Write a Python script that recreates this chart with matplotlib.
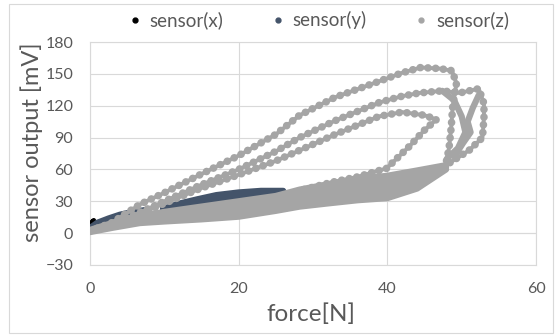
import matplotlib
matplotlib.use("Agg")
import matplotlib.pyplot as plt
from matplotlib.lines import Line2D
from matplotlib.patches import Rectangle

plt.rcParams['font.family'] = ['Lato', 'DejaVu Sans']

# --- data (force [N], sensor output [mV]) ---
# sensor(x): almost hidden near the origin
x_fx = [0.0, 0.2, 0.5, 0.3, 0.0]
x_mv = [6, 10, 12, 9, 4]

# sensor(y): thin loop, upper edge then lower edge
y_fx_a = [0.0, 1.0, 2.5, 4.0, 6.0, 7.5]
y_mv_a = [5, 10, 14, 17.5, 20.5, 22]
y_fx_b = [9.8, 12, 14.4, 17, 20, 23, 26, 26, 23, 20, 17, 14.4, 12, 9.8]
y_mv_b = [23, 28, 32, 36, 38.5, 40, 40, 38.5, 35.5, 31.5, 28.5, 27, 25, 23]

# sensor(z): loading branches (upper, dotted look)
z_up_a_fx = [0, 3, 6.7, 10, 14.8, 20, 25, 28.2, 33, 38.9, 42, 44.5, 47, 48.7, 49.3, 48.8, 48.6, 48.3, 47.9]
z_up_a_mv = [2, 10, 27, 38, 55, 73, 93, 111, 128, 143, 151, 156, 155, 153, 141, 120, 100, 80, 66]
z_up_b_fx = [0, 5, 10, 14.8, 20, 25, 28.2, 33, 38.9, 42, 44.3, 47.4, 49.7, 52.3, 53, 53, 52.8, 51, 47.9]
z_up_b_mv = [2, 14, 30, 45, 60, 77, 90, 106, 123, 129, 132, 134, 132, 136, 122, 109, 90, 78, 64]
z_up_c_fx = [0, 5, 10, 14.8, 20, 25, 28.2, 33, 38.9, 42, 45, 46.6, 45, 43, 39.9, 36, 32.6, 28.2]
z_up_c_mv = [2, 13, 28, 42, 55, 68, 78, 93, 110, 114, 111, 107, 97, 82, 61, 53, 48, 40]
# inner returns near the turning point
z_in_fx = [47.4, 49, 50, 50.5, 49.5, 48]
z_in_mv = [134, 125, 110, 95, 80, 70]
z_in2_fx = [52.3, 51.5, 50.8, 51.2, 50.2, 49]
z_in2_mv = [130, 118, 105, 95, 85, 72]

# sensor(z): unloading branches (lower, dense band)
z_lo_a_fx = [47.9, 44, 40, 36, 32, 28.2, 25, 20, 15, 10, 5, 0]
z_lo_a_mv = [64, 59, 54, 51, 46, 41, 35, 30, 25, 20, 14, 3]
z_lo_b_fx = [47.9, 44, 40, 36, 32, 28.2, 25, 20, 15, 10, 5, 0]
z_lo_b_mv = [62, 52, 44, 40, 36, 32, 28, 23, 20, 16, 11, 2]
z_lo_c_fx = [47.9, 44, 40, 36, 32, 28.2, 25, 20, 15, 10, 6.7, 3, 0]
z_lo_c_mv = [60, 42, 33, 31, 28, 25, 21, 15.5, 13, 11, 9.5, 5, 1]

x_ticks = [0, 20, 40, 60]
y_ticks = [-30, 0, 30, 60, 90, 120, 150, 180]

c_x = '#000000'
c_y = '#44546A'
c_z = '#A5A5A5'
txt = '#595959'
grid = '#D9D9D9'

fig = plt.figure(figsize=(5.55, 3.35), dpi=100)
fig.patches.append(Rectangle((9 / 555, 2 / 335), 544 / 555, 329 / 335, transform=fig.transFigure,
                             fill=False, edgecolor=grid, linewidth=0.8))
ax = fig.add_axes([90 / 555, 70 / 335, 446 / 555, 223 / 335])

# draw order like the spreadsheet: x, y, z (z on top)
ax.plot(x_fx, x_mv, color=c_x, lw=3.5, solid_capstyle='round', solid_joinstyle='round', zorder=3)
for fx, mv in [(y_fx_a, y_mv_a), (y_fx_b, y_mv_b)]:
    ax.plot(fx, mv, color=c_y, lw=4.2, solid_capstyle='round', solid_joinstyle='round', zorder=3)
    ax.fill(fx, mv, color=c_y, lw=0, zorder=3)

# lower band: filled between the outer unloading branches
ax.fill(z_lo_a_fx + z_lo_c_fx[::-1], z_lo_a_mv + z_lo_c_mv[::-1], color=c_z, lw=0, zorder=4)
for fx, mv in [(z_lo_a_fx, z_lo_a_mv), (z_lo_b_fx, z_lo_b_mv), (z_lo_c_fx, z_lo_c_mv),
               (z_in_fx, z_in_mv), (z_in2_fx, z_in2_mv)]:
    ax.plot(fx, mv, color=c_z, lw=4.5, solid_capstyle='round', solid_joinstyle='round', zorder=4)
for fx, mv in [(z_up_a_fx, z_up_a_mv), (z_up_b_fx, z_up_b_mv), (z_up_c_fx, z_up_c_mv)]:
    ax.plot(fx, mv, color=c_z, lw=5.5, dash_capstyle='round', linestyle=(0, (0.01, 1.0)), zorder=4)
    ax.plot(fx, mv, color=c_z, lw=2.8, solid_joinstyle='round', zorder=4)

ax.set_xlim(0, 60)
ax.set_ylim(-30, 180)
ax.set_xticks(x_ticks)
ax.set_yticks(y_ticks)
ax.grid(True, color=grid, lw=0.8, zorder=0)
ax.axhline(0, color=grid, lw=0.8, zorder=1)
for s in ax.spines.values():
    s.set_color(grid)
    s.set_linewidth(0.8)
ax.tick_params(length=0, labelsize=11.5, labelcolor=txt, pad=12)
ax.tick_params(axis='x', pad=12)

ax.set_xlabel('force[N]', fontsize=17.5, color=txt)
ax.xaxis.set_label_coords(0.496, -0.22)
ax.xaxis.label.set_va('center')
ax.set_ylabel('sensor output [mV]', fontsize=17, color=txt)
ax.yaxis.set_label_coords(-0.13, 0.55)
ax.yaxis.label.set_va('center')

handles = [Line2D([], [], ls='', marker='o', ms=3.5, color=c, mec=c) for c in (c_x, c_y, c_z)]
fig.legend(handles, ['sensor(x)', 'sensor(y)', 'sensor(z)'], loc='center', bbox_to_anchor=(0.575, 0.94),
           ncol=3, frameon=False, fontsize=13.5, labelcolor=txt, handlelength=0.6,
           handletextpad=0.5, columnspacing=2.6)

fig.savefig('out.png', dpi=100)
